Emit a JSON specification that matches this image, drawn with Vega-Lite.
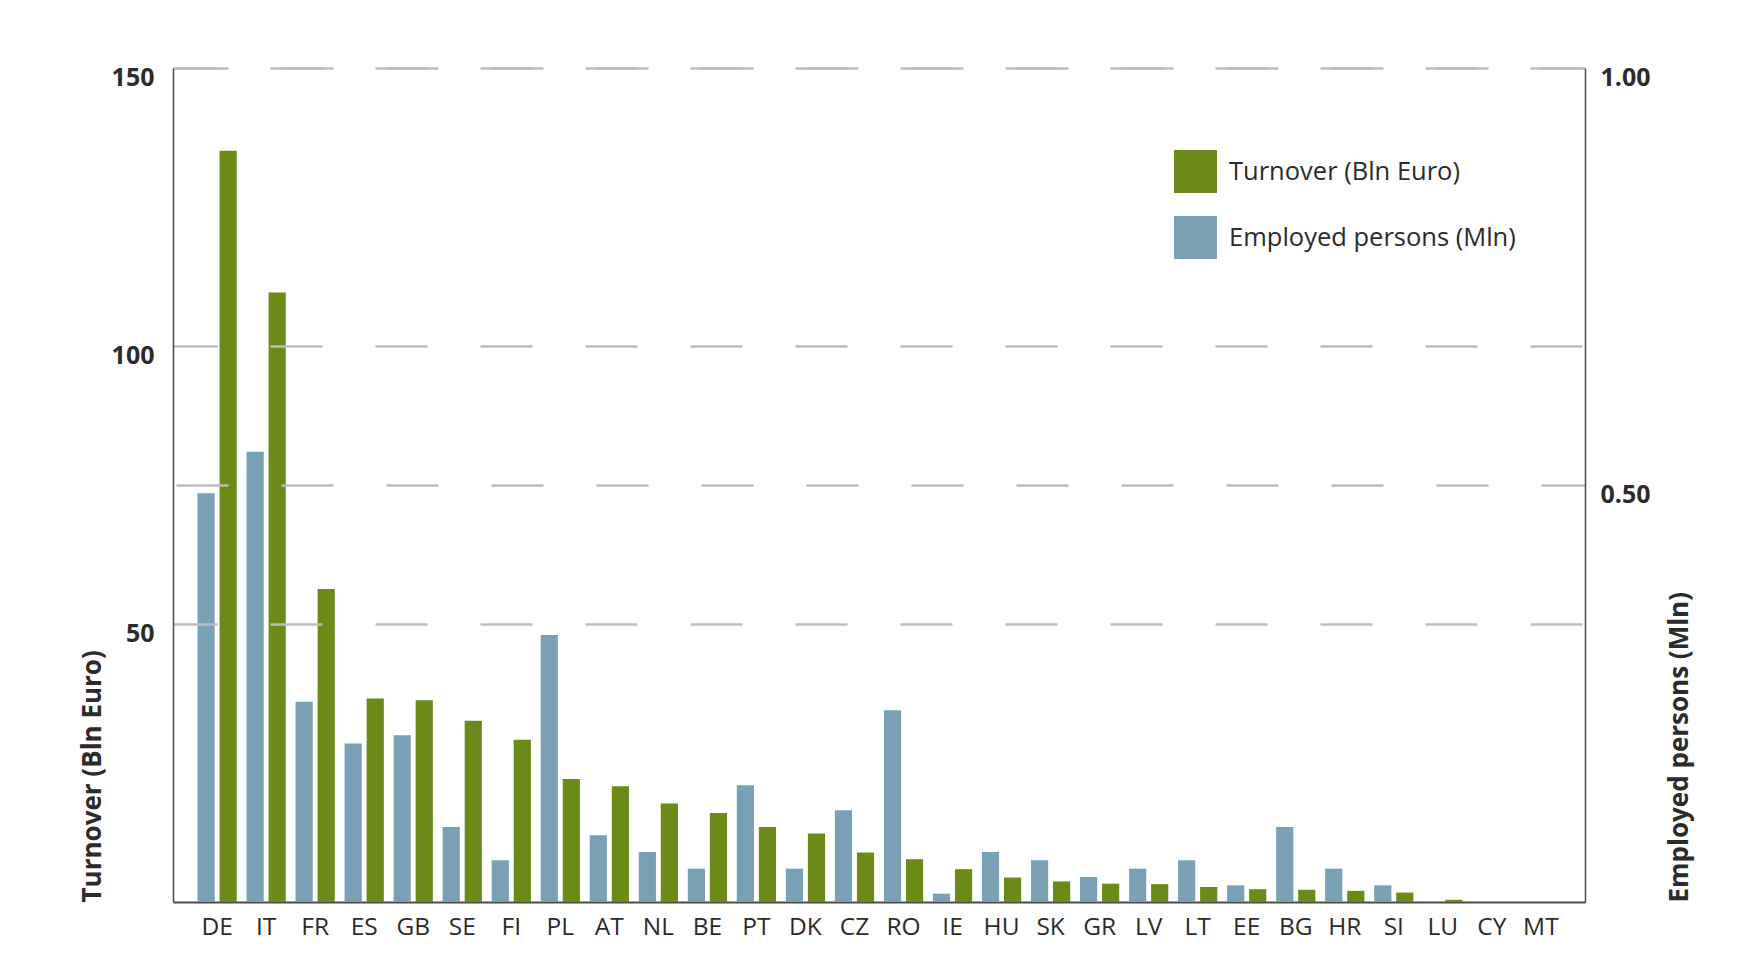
{
  "$schema": "https://vega.github.io/schema/vega-lite/v6.json",
  "width": 1412,
  "height": 834,
  "autosize": {"type": "none"},
  "padding": {"left": 173, "top": 68, "right": 175, "bottom": 52},
  "background": "white",
  "config": {
    "view": {"stroke": null},
    "font": "Open Sans",
    "axis": {"ticks": false, "labelColor": "#2b2b2b", "titleColor": "#2b2b2b"}
  },
  "data": {
    "values": [
      {"country": "DE", "series": "Employed persons (Mln)", "value": 0.49},
      {"country": "DE", "series": "Turnover (Bln Euro)", "value": 135.1},
      {"country": "IT", "series": "Employed persons (Mln)", "value": 0.54},
      {"country": "IT", "series": "Turnover (Bln Euro)", "value": 109.6},
      {"country": "FR", "series": "Employed persons (Mln)", "value": 0.24},
      {"country": "FR", "series": "Turnover (Bln Euro)", "value": 56.3},
      {"country": "ES", "series": "Employed persons (Mln)", "value": 0.19},
      {"country": "ES", "series": "Turnover (Bln Euro)", "value": 36.6},
      {"country": "GB", "series": "Employed persons (Mln)", "value": 0.2},
      {"country": "GB", "series": "Turnover (Bln Euro)", "value": 36.3},
      {"country": "SE", "series": "Employed persons (Mln)", "value": 0.09},
      {"country": "SE", "series": "Turnover (Bln Euro)", "value": 32.6},
      {"country": "FI", "series": "Employed persons (Mln)", "value": 0.05},
      {"country": "FI", "series": "Turnover (Bln Euro)", "value": 29.2},
      {"country": "PL", "series": "Employed persons (Mln)", "value": 0.32},
      {"country": "PL", "series": "Turnover (Bln Euro)", "value": 22.1},
      {"country": "AT", "series": "Employed persons (Mln)", "value": 0.08},
      {"country": "AT", "series": "Turnover (Bln Euro)", "value": 20.8},
      {"country": "NL", "series": "Employed persons (Mln)", "value": 0.06},
      {"country": "NL", "series": "Turnover (Bln Euro)", "value": 17.7},
      {"country": "BE", "series": "Employed persons (Mln)", "value": 0.04},
      {"country": "BE", "series": "Turnover (Bln Euro)", "value": 16.0},
      {"country": "PT", "series": "Employed persons (Mln)", "value": 0.14},
      {"country": "PT", "series": "Turnover (Bln Euro)", "value": 13.5},
      {"country": "DK", "series": "Employed persons (Mln)", "value": 0.04},
      {"country": "DK", "series": "Turnover (Bln Euro)", "value": 12.3},
      {"country": "CZ", "series": "Employed persons (Mln)", "value": 0.11},
      {"country": "CZ", "series": "Turnover (Bln Euro)", "value": 8.9},
      {"country": "RO", "series": "Employed persons (Mln)", "value": 0.23},
      {"country": "RO", "series": "Turnover (Bln Euro)", "value": 7.7},
      {"country": "IE", "series": "Employed persons (Mln)", "value": 0.01},
      {"country": "IE", "series": "Turnover (Bln Euro)", "value": 5.9},
      {"country": "HU", "series": "Employed persons (Mln)", "value": 0.06},
      {"country": "HU", "series": "Turnover (Bln Euro)", "value": 4.4},
      {"country": "SK", "series": "Employed persons (Mln)", "value": 0.05},
      {"country": "SK", "series": "Turnover (Bln Euro)", "value": 3.7},
      {"country": "GR", "series": "Employed persons (Mln)", "value": 0.03},
      {"country": "GR", "series": "Turnover (Bln Euro)", "value": 3.3},
      {"country": "LV", "series": "Employed persons (Mln)", "value": 0.04},
      {"country": "LV", "series": "Turnover (Bln Euro)", "value": 3.2},
      {"country": "LT", "series": "Employed persons (Mln)", "value": 0.05},
      {"country": "LT", "series": "Turnover (Bln Euro)", "value": 2.7},
      {"country": "EE", "series": "Employed persons (Mln)", "value": 0.02},
      {"country": "EE", "series": "Turnover (Bln Euro)", "value": 2.3},
      {"country": "BG", "series": "Employed persons (Mln)", "value": 0.09},
      {"country": "BG", "series": "Turnover (Bln Euro)", "value": 2.2},
      {"country": "HR", "series": "Employed persons (Mln)", "value": 0.04},
      {"country": "HR", "series": "Turnover (Bln Euro)", "value": 2.0},
      {"country": "SI", "series": "Employed persons (Mln)", "value": 0.02},
      {"country": "SI", "series": "Turnover (Bln Euro)", "value": 1.7},
      {"country": "LU", "series": "Employed persons (Mln)", "value": 0.0},
      {"country": "LU", "series": "Turnover (Bln Euro)", "value": 0.4},
      {"country": "CY", "series": "Employed persons (Mln)", "value": 0.0},
      {"country": "CY", "series": "Turnover (Bln Euro)", "value": 0.0},
      {"country": "MT", "series": "Employed persons (Mln)", "value": 0.0},
      {"country": "MT", "series": "Turnover (Bln Euro)", "value": 0.0}
    ]
  },
  "encoding": {
    "x": {
      "field": "country",
      "type": "nominal",
      "sort": null,
      "scale": {"paddingInner": 0.2, "paddingOuter": 0.5},
      "axis": {
        "title": null,
        "labelAngle": 0,
        "labelFontSize": 24.5,
        "labelPadding": 13,
        "domainColor": "#4a4a4a",
        "domainWidth": 2,
        "grid": false
      }
    },
    "xOffset": {
      "field": "series",
      "type": "nominal",
      "scale": {
        "domain": ["Employed persons (Mln)", "Turnover (Bln Euro)"],
        "paddingInner": 0.22
      }
    },
    "color": {
      "field": "series",
      "type": "nominal",
      "scale": {
        "domain": ["Turnover (Bln Euro)", "Employed persons (Mln)"],
        "range": ["#6b8a18", "#79a1b6"]
      },
      "legend": {
        "title": null,
        "orient": "none",
        "legendX": 1001,
        "legendY": 82,
        "padding": 0,
        "symbolType": "square",
        "symbolSize": 1849,
        "symbolStrokeWidth": 0,
        "symbolOpacity": 1,
        "labelFontSize": 25.5,
        "labelLimit": 500,
        "labelColor": "#2b2b2b",
        "labelOffset": 12,
        "rowPadding": 23
      }
    }
  },
  "layer": [
    {
      "transform": [{"filter": "datum.series === 'Turnover (Bln Euro)'"}],
      "mark": {"type": "bar"},
      "encoding": {
        "y": {
          "field": "value",
          "type": "quantitative",
          "scale": {"domain": [0, 150], "nice": false},
          "axis": {
            "orient": "left",
            "values": [50, 100, 150],
            "title": "Turnover (Bln Euro)",
            "titleFontSize": 26,
            "titleFontWeight": "bold",
            "titleAnchor": "start",
            "titlePadding": 6,
            "labelFontSize": 25,
            "labelFontWeight": "bold",
            "labelPadding": 19,
            "labelOffset": 9,
            "domainColor": "#4a4a4a",
            "domainWidth": 1.5,
            "grid": true,
            "gridColor": "#bdbdbd",
            "gridWidth": 2.5,
            "gridDash": [52, 53],
            "gridDashOffset": 8,
            "zindex": 1
          }
        }
      }
    },
    {
      "transform": [{"filter": "datum.series === 'Employed persons (Mln)'"}],
      "mark": {"type": "bar"},
      "encoding": {
        "y": {
          "field": "value",
          "type": "quantitative",
          "scale": {"domain": [0, 1], "nice": false},
          "axis": {
            "orient": "right",
            "values": [0.5, 1],
            "format": ".2f",
            "title": "Employed persons (Mln)",
            "titleFontSize": 26,
            "titleFontWeight": "bold",
            "titleAngle": -90,
            "titleBaseline": "top",
            "titleAnchor": "start",
            "titlePadding": 16,
            "labelFontSize": 25,
            "labelFontWeight": "bold",
            "labelPadding": 15,
            "labelOffset": 9,
            "domainColor": "#4a4a4a",
            "domainWidth": 1.5,
            "grid": true,
            "gridColor": "#bdbdbd",
            "gridWidth": 2.5,
            "gridDash": [52, 53],
            "gridDashOffset": 8,
            "zindex": 1
          }
        }
      }
    }
  ],
  "resolve": {"scale": {"y": "independent"}}
}
